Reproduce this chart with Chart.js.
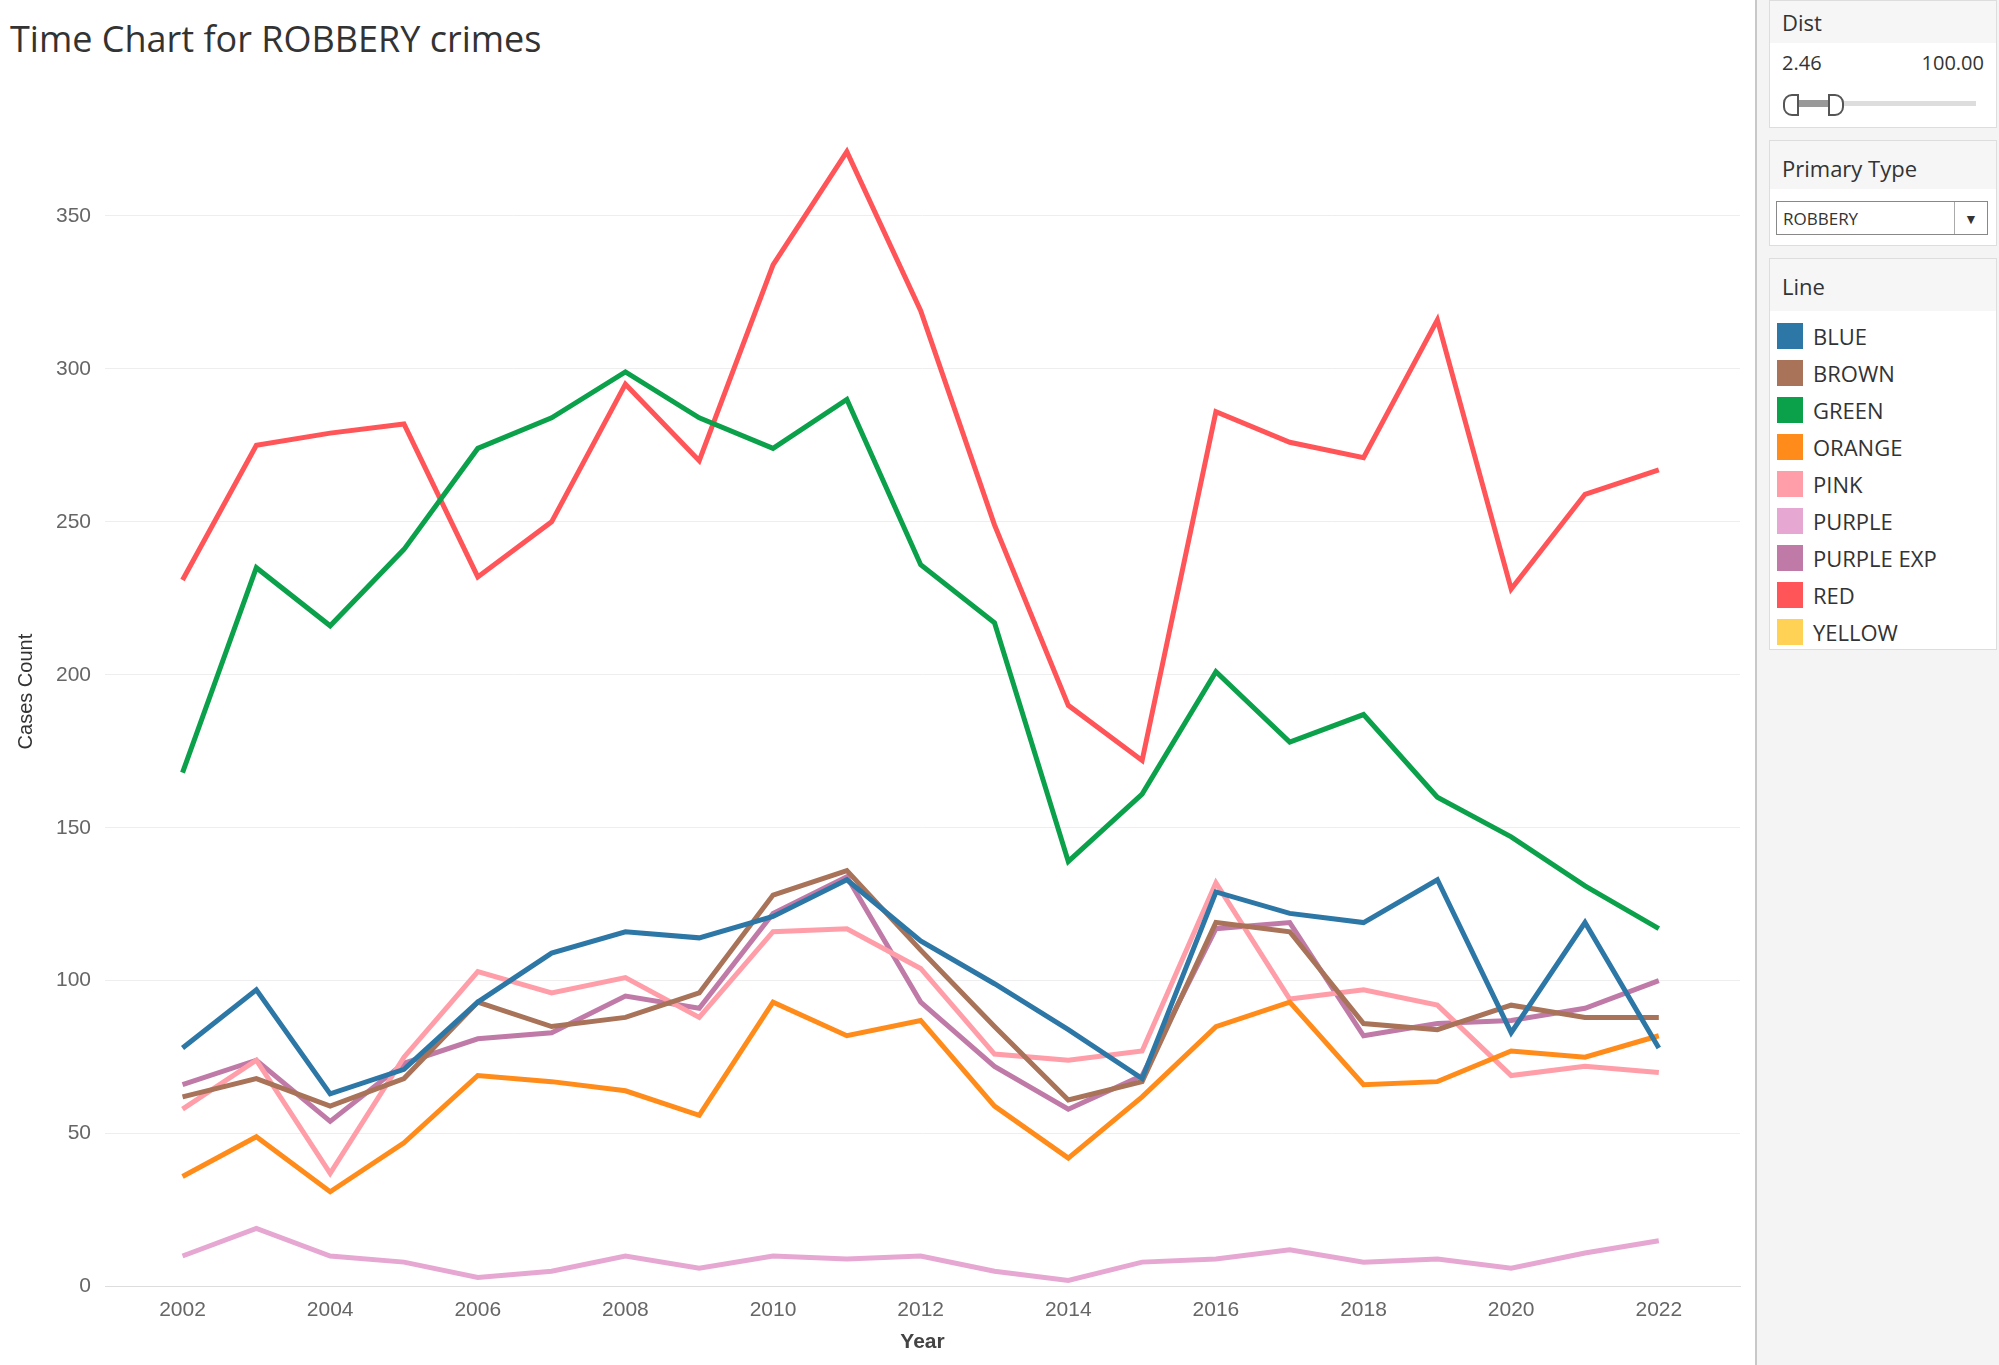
<!DOCTYPE html>
<html>
<head>
<meta charset="utf-8">
<script src="https://cdn.jsdelivr.net/npm/chart.js@4"></script>
<style>
  body { margin: 0; width: 1999px; height: 1365px; font-family: "Open Sans", "Noto Sans", sans-serif; background: #fff; overflow: hidden; position: relative; }
  #title { position: absolute; left: 10px; top: 14px; font-size: 36px; color: #333; }
  #wrap { position: absolute; left: 0; top: 70px; width: 1755px; height: 1295px; }
  #side { position: absolute; left: 1755px; top: 0; width: 244px; height: 1365px; background: #f4f4f4; border-left: 2px solid #c8c8c8; }
  .card { position: absolute; left: 12px; width: 226px; background: #fff; border: 1px solid #ddd; }
  .card .hd { background: #f6f6f6; padding: 6px 12px; font-size: 22px; color: #333; }
  .leg { display: flex; align-items: center; height: 37px; padding-left: 7px; font-size: 22px; color: #333; }
  .sw { width: 26px; height: 26px; margin-right: 10px; }
</style>
</head>
<body>
<div id="title">Time Chart for ROBBERY crimes</div>
<div id="wrap"><canvas id="chart"></canvas></div>
<div id="side">
  <div class="card" style="top:0;height:126px;">
    <div class="hd">Dist</div>
    <div style="display:flex;justify-content:space-between;padding:6px 12px;font-size:20px;color:#333;"><span>2.46</span><span>100.00</span></div>
    <div style="position:absolute;left:16px;top:100px;width:190px;height:5px;background:#ddd;"></div>
    <div style="position:absolute;left:16px;top:99px;width:50px;height:7px;background:#999;"></div>
    <div style="position:absolute;left:13px;top:93px;width:12px;height:18px;border:2px solid #555;border-radius:9px 0 0 9px;background:#fff;"></div>
    <div style="position:absolute;left:58px;top:93px;width:12px;height:18px;border:2px solid #555;border-radius:0 9px 9px 0;background:#fff;"></div>
  </div>
  <div class="card" style="top:140px;height:104px;">
    <div class="hd" style="padding-top:12px;">Primary Type</div>
    <div style="position:absolute;left:6px;top:60px;width:212px;height:34px;border:1px solid #888;font-size:17px;line-height:34px;padding-left:6px;box-sizing:border-box;color:#333;">ROBBERY
      <span style="position:absolute;right:0;top:0;width:32px;height:32px;border-left:1px solid #aaa;text-align:center;font-size:14px;">&#9660;</span></div>
  </div>
  <div class="card" style="top:258px;height:390px;">
    <div class="hd" style="padding-top:12px;padding-bottom:10px;">Line</div>
    <div id="legend" style="padding-top:6px;"></div>
  </div>
</div>
<script>
// chart data
const years = [2002, 2003, 2004, 2005, 2006, 2007, 2008, 2009, 2010, 2011, 2012, 2013, 2014, 2015, 2016, 2017, 2018, 2019, 2020, 2021, 2022];
const lineNames = ['BLUE', 'BROWN', 'GREEN', 'ORANGE', 'PINK', 'PURPLE', 'PURPLE EXP', 'RED', 'YELLOW'];
const lineColors = ['#2d77a6', '#a87358', '#0ba14b', '#ff8c1a', '#ff9ea8', '#e6a8d2', '#c07aa8', '#ff5558', '#ffd155'];

const blue = [78, 97, 63, 71, 93, 109, 116, 114, 121, 133, 113, 99, 84, 68, 129, 122, 119, 133, 83, 119, 78];
const brown = [62, 68, 59, 68, 93, 85, 88, 96, 128, 136, 110, 85, 61, 67, 119, 116, 86, 84, 92, 88, 88];
const green = [168, 235, 216, 241, 274, 284, 299, 284, 274, 290, 236, 217, 139, 161, 201, 178, 187, 160, 147, 131, 117];
const orange = [36, 49, 31, 47, 69, 67, 64, 56, 93, 82, 87, 59, 42, 62, 85, 93, 66, 67, 77, 75, 82];
const pink = [58, 74, 37, 75, 103, 96, 101, 88, 116, 117, 104, 76, 74, 77, 132, 94, 97, 92, 69, 72, 70];
const purple = [10, 19, 10, 8, 3, 5, 10, 6, 10, 9, 10, 5, 2, 8, 9, 12, 8, 9, 6, 11, 15];
const purpleExp = [66, 74, 54, 73, 81, 83, 95, 91, 122, 134, 93, 72, 58, 69, 117, 119, 82, 86, 87, 91, 100];
const red = [231, 275, 279, 282, 232, 250, 295, 270, 334, 371, 319, 249, 190, 172, 286, 276, 271, 316, 228, 259, 267];
const yellow = [];

const yTicks = [0, 50, 100, 150, 200, 250, 300, 350];

const seriesValues = [blue, brown, green, orange, pink, purple, purpleExp, red, yellow];

// legend on the side panel
const legendDiv = document.getElementById('legend');
lineNames.forEach((name, i) => {
  const row = document.createElement('div');
  row.className = 'leg';
  row.innerHTML = '<span class="sw" style="background:' + lineColors[i] + '"></span>' + name;
  legendDiv.appendChild(row);
});

const datasets = lineNames.map((name, i) => ({
  label: name,
  data: seriesValues[i].map((v, j) => ({ x: years[j], y: v })),
  borderColor: lineColors[i],
  backgroundColor: lineColors[i],
  borderWidth: 5,
  pointRadius: 0,
  tension: 0
}));

const ctx = document.getElementById('chart').getContext('2d');
new Chart(ctx, {
  type: 'line',
  data: { datasets: datasets },
  options: {
    responsive: true,
    maintainAspectRatio: false,
    animation: false,
    layout: { padding: { left: 10, right: 15, top: 10, bottom: 6 } },
    plugins: { legend: { display: false }, tooltip: { enabled: false } },
    scales: {
      x: {
        type: 'linear',
        min: 2000.95,
        max: 2023.1,
        afterBuildTicks: (axis) => { axis.ticks = years.filter(y => y % 2 === 0).map(v => ({ value: v })); },
        grid: { display: false, drawTicks: true, tickLength: 8 },
        border: { color: '#ddd' },
        ticks: { color: '#666', font: { size: 21 }, callback: (v) => String(v) },
        title: { display: true, text: 'Year', color: '#444', font: { size: 21, weight: 'bold' } }
      },
      y: {
        min: 0,
        max: 389,
        afterBuildTicks: (axis) => { axis.ticks = yTicks.map(v => ({ value: v })); },
        grid: { color: '#eeeeee', drawTicks: false },
        border: { display: false },
        ticks: { color: '#666', font: { size: 21 }, padding: 14 },
        title: { display: true, text: 'Cases Count', color: '#333', font: { size: 20 } }
      }
    }
  }
});
</script>
</body>
</html>
